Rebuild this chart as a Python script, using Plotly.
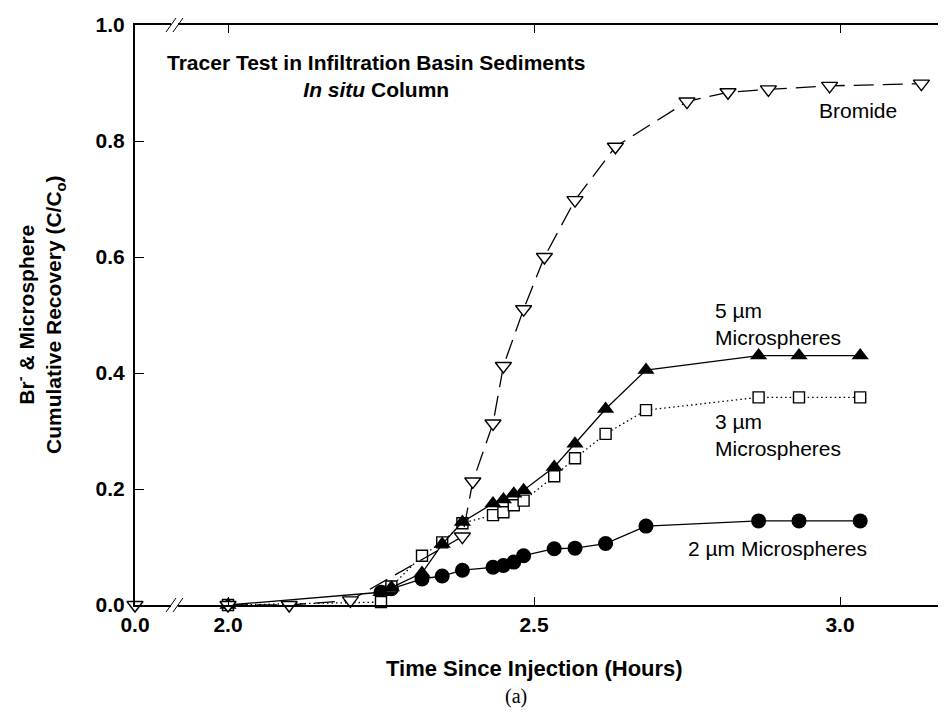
import plotly.graph_objects as go

# ---------------- data ----------------
bromide_t = [0.0, 2.0, 2.1, 2.2, 2.383, 2.4, 2.433, 2.45, 2.483, 2.517, 2.567, 2.633, 2.75, 2.817, 2.883, 2.983, 3.133]
bromide_v = [0.0, 0.0, 0.0, 0.008, 0.118, 0.213, 0.313, 0.412, 0.51, 0.6, 0.698, 0.79, 0.868, 0.884, 0.889, 0.895, 0.899]

um5_t = [2.0, 2.25, 2.267, 2.317, 2.35, 2.383, 2.433, 2.45, 2.467, 2.483, 2.533, 2.567, 2.617, 2.683, 2.867, 2.933, 3.033]
um5_v = [0.0, 0.022, 0.03, 0.055, 0.105, 0.143, 0.175, 0.182, 0.192, 0.198, 0.238, 0.278, 0.338, 0.405, 0.43, 0.43, 0.43]

um3_t = [2.0, 2.25, 2.267, 2.317, 2.35, 2.383, 2.433, 2.45, 2.467, 2.483, 2.533, 2.567, 2.617, 2.683, 2.867, 2.933, 3.033]
um3_v = [0.0, 0.005, 0.032, 0.085, 0.108, 0.141, 0.155, 0.16, 0.172, 0.18, 0.222, 0.253, 0.295, 0.336, 0.358, 0.358, 0.358]

um2_t = [2.25, 2.267, 2.317, 2.35, 2.383, 2.433, 2.45, 2.467, 2.483, 2.533, 2.567, 2.617, 2.683, 2.867, 2.933, 3.033]
um2_v = [0.022, 0.028, 0.045, 0.05, 0.06, 0.065, 0.068, 0.074, 0.085, 0.097, 0.098, 0.106, 0.136, 0.145, 0.145, 0.145]

x_left_ticks = [0.0]
x_left_labels = ["0.0"]
x_right_ticks = [2.0, 2.5, 3.0]
x_right_labels = ["2.0", "2.5", "3.0"]
y_ticks = [0.0, 0.2, 0.4, 0.6, 0.8, 1.0]

# ---------------- geometry ----------------
W, H = 946, 713
L, R, T, B = 127, 0, 17, 116
PW = W - L - R
PH = H - T - B
brk_a, brk_b = 163, 170           # pixel x of the axis break
px_per_hr = 612.0
x2_px = 220                      # pixel position of 2.0 h

def px(xp):
    return (xp - L) / PW

def py(yp):
    return (H - B - yp) / PH

left_dom = [0, px(brk_a)]
right_dom = [px(brk_b), 1]
left_range = [0, (brk_a - L) / px_per_hr]
right_range = [2.0 - (x2_px - brk_b) / px_per_hr, 2.0 + (W - R - x2_px) / px_per_hr]

FONT = "Liberation Sans, Arial, Helvetica, sans-serif"
SERIF = "Liberation Serif"
BLACK = "#000000"

fig = go.Figure()

b_left_t = [t for t in bromide_t if t < 1.0]
b_left_v = [v for t, v in zip(bromide_t, bromide_v) if t < 1.0]
b_right_t = [t for t in bromide_t if t >= 1.0]
b_right_v = [v for t, v in zip(bromide_t, bromide_v) if t >= 1.0]

fig.add_trace(go.Scatter(
    x=um2_t, y=um2_v, xaxis="x2", yaxis="y", mode="lines+markers",
    line=dict(color=BLACK, width=1.3),
    marker=dict(symbol="circle", size=15, color=BLACK, line=dict(width=0)),
    cliponaxis=False, showlegend=False))

fig.add_trace(go.Scatter(
    x=um3_t, y=um3_v, xaxis="x2", yaxis="y", mode="lines+markers",
    line=dict(color=BLACK, width=1.3, dash="1.5px,3px"),
    marker=dict(symbol="square", size=11, color="white", line=dict(color=BLACK, width=1.4)),
    cliponaxis=False, showlegend=False))

fig.add_trace(go.Scatter(
    x=um5_t, y=um5_v, xaxis="x2", yaxis="y", mode="lines+markers",
    line=dict(color=BLACK, width=1.3),
    marker=dict(symbol="triangle-up", size=15, color=BLACK, line=dict(width=0)),
    cliponaxis=False, showlegend=False))

fig.add_trace(go.Scatter(
    x=b_right_t, y=b_right_v, xaxis="x2", yaxis="y", mode="lines+markers",
    line=dict(color=BLACK, width=1.3, dash="20px,9px"),
    marker=dict(symbol="triangle-down", size=14, color="white", line=dict(color=BLACK, width=1.4)),
    cliponaxis=False, showlegend=False))

fig.add_trace(go.Scatter(
    x=b_left_t, y=b_left_v, xaxis="x", yaxis="y", mode="markers",
    marker=dict(symbol="triangle-down", size=14, color="white", line=dict(color=BLACK, width=1.4)),
    cliponaxis=False, showlegend=False))

tickfont = dict(family=FONT, size=21, color=BLACK, weight="bold")

common_x = dict(showline=True, linecolor=BLACK, linewidth=2, mirror="ticks",
                ticks="inside", ticklen=8, tickwidth=1.3, tickcolor=BLACK,
                showgrid=False, zeroline=False, tickfont=tickfont, anchor="y")

fig.update_layout(
    width=W, height=H,
    margin=dict(l=L, r=R, t=T, b=B, pad=0),
    paper_bgcolor="white", plot_bgcolor="white",
    xaxis=dict(domain=left_dom, range=left_range, tickmode="array",
               tickvals=x_left_ticks, ticktext=x_left_labels, **common_x),
    xaxis2=dict(domain=right_dom, range=right_range, tickmode="array",
                tickvals=x_right_ticks, ticktext=x_right_labels, **common_x),
    yaxis=dict(range=[0, 1], showline=True, linecolor=BLACK, linewidth=2,
               ticks="inside", ticklen=9, tickwidth=1.3, tickcolor=BLACK,
               tickmode="array", tickvals=y_ticks, tickformat=".1f",
               showgrid=False, zeroline=False, tickfont=tickfont,
               ticklabelstandoff=4),
    yaxis2=dict(range=[0, 1], overlaying="y", side="right", anchor="x2",
                showline=False, ticks="inside", ticklen=3, tickwidth=1,
                tickcolor="#9a9a9a", tickmode="array", tickvals=[0.2, 0.4, 0.6, 0.8],
                showticklabels=False, showgrid=False, zeroline=False),
    showlegend=False,
)

fig.add_trace(go.Scatter(x=[2.5], y=[0.5], xaxis="x2", yaxis="y2", mode="markers",
                         marker=dict(opacity=0), hoverinfo="skip", showlegend=False))

# axis-break slashes (top and bottom)
for yb in (0.0, 1.0):
    for xb in (brk_a, brk_b):
        fig.add_shape(type="line", xref="paper", yref="paper",
                      x0=px(xb - 5), x1=px(xb + 5),
                      y0=yb - 7 / PH, y1=yb + 7 / PH,
                      line=dict(color=BLACK, width=1))

def ann(text, xp, yp, size=21, xanchor="center", bold=False, family=FONT, align="center", angle=0):
    fig.add_annotation(text=text, xref="paper", yref="paper", x=px(xp), y=py(yp),
                       xanchor=xanchor, yanchor="middle", showarrow=False, align=align,
                       textangle=angle,
                       font=dict(family=family, size=size, color=BLACK,
                                 weight="bold" if bold else "normal"))

ann("Tracer Test in Infiltration Basin Sediments<br><i>In situ</i> Column", 368, 68, size=21, bold=True)
ann("Bromide", 850, 103, size=21)
ann("5 µm<br>Microspheres", 705, 316, size=21, xanchor="left", align="left")
ann("3 µm<br>Microspheres", 705, 427, size=21, xanchor="left", align="left")
ann("2 µm Microspheres", 678, 540, size=21, xanchor="left", align="left")
ann("Time Since Injection (Hours)", 526, 660, size=22, bold=True)
ann("(a)", 508, 688, size=20, family=SERIF)
ann("Br<sup>-</sup> & Microsphere<br>Cumulative Recovery (C/C<sub>o</sub>)", 32, 307, size=21, bold=True, angle=-90)

fig.write_html("out.html")
